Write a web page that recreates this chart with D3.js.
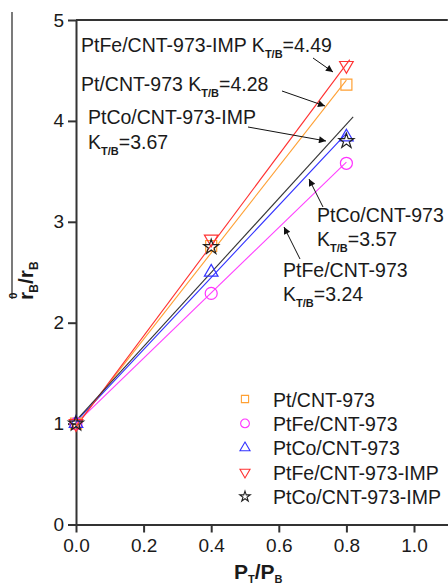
<!DOCTYPE html>
<html>
<head>
<meta charset="utf-8">
<script src="https://cdn.jsdelivr.net/npm/d3@7/dist/d3.min.js"></script>
<style>
  html, body { margin: 0; padding: 0; background: #fff; }
  svg { display: block; }
  text { font-family: "Liberation Sans", Arial, Helvetica, sans-serif; fill: #1a1a1a; }
</style>
</head>
<body>
<svg id="chart" width="448" height="585"></svg>
<script>
// Pressure ratio values (P_T / P_B)
const pressureRatio = [0, 0.4, 0.8];

// Catalyst series
const seriesNames = ["Pt/CNT-973", "PtFe/CNT-973", "PtCo/CNT-973", "PtFe/CNT-973-IMP", "PtCo/CNT-973-IMP"];
const ptValues       = [1.0, 2.76, 4.36];
const ptFeValues     = [1.0, 2.29, 3.58];
const ptCoValues     = [1.0, 2.50, 3.84];
const ptFeImpValues  = [1.0, 2.83, 4.55];
const ptCoImpValues  = [1.0, 2.75, 3.80];

// Linear fits: slope K_T/B, intercept, fitted x range end
const fitSlopes     = [4.28, 3.24, 3.57, 4.49, 3.67];
const fitIntercepts = [0.98, 1.00, 1.02, 0.97, 1.03];
const fitEnds       = [0.80, 0.80, 0.80, 0.81, 0.82];

const xTicks = [0, 0.2, 0.4, 0.6, 0.8, 1.0];
const yTicks = [0, 1, 2, 3, 4, 5];

const colors  = ["#ffa033", "#ff33ff", "#3333ff", "#ff3333", "#222222"];
const lineColors = ["#ffa033", "#ff40ff", "#3030ff", "#ff3030", "#333333"];
const symbols = [d3.symbolSquare, d3.symbolCircle, d3.symbolTriangle, d3.symbolTriangle, d3.symbolStar];
const flips   = [0, 0, 0, 180, 0];
const markerSizes = [121, 113, 80, 80, 70];
const legendSizes = [52, 60, 44, 44, 34];

const allValues = [ptValues, ptFeValues, ptCoValues, ptFeImpValues, ptCoImpValues];

const svg = d3.select("#chart");
const x = d3.scaleLinear().domain([0, 1.1]).range([76, 447.8]);
const y = d3.scaleLinear().domain([0, 5]).range([524.5, 20]);

// Top frame line
svg.append("line").attr("x1", x(0)).attr("x2", x(1.1)).attr("y1", y(5)).attr("y2", y(5))
  .attr("stroke", "#333").attr("stroke-width", 2);

// Axes
const xAxis = d3.axisBottom(x).tickValues(xTicks).tickFormat(d3.format(".1f")).tickSizeInner(8).tickSizeOuter(0).tickPadding(6);
const yAxis = d3.axisLeft(y).tickValues(yTicks).tickFormat(d3.format("d")).tickSizeInner(8).tickSizeOuter(0).tickPadding(4);

const gx = svg.append("g").attr("transform", `translate(0,${y(0)})`).call(xAxis);
const gy = svg.append("g").attr("transform", `translate(${x(0)},0)`).call(yAxis);
[gx, gy].forEach(g => {
  g.select(".domain").attr("stroke", "#333").attr("stroke-width", 2);
  g.selectAll(".tick line").attr("stroke", "#333").attr("stroke-width", 2);
  g.selectAll(".tick text").attr("font-size", 19).attr("fill", "#1a1a1a")
    .attr("font-family", "'Liberation Sans', Arial, sans-serif");
});

// Fit lines
const lineGroup = svg.append("g").attr("fill", "none").attr("stroke-width", 1.1);
fitSlopes.forEach((k, i) => {
  const pts = [0, fitEnds[i]].map(v => [x(v), y(fitIntercepts[i] + k * v)]);
  lineGroup.append("path").attr("d", d3.line()(pts)).attr("stroke", lineColors[i]);
});

// Data markers
allValues.forEach((vals, i) => {
  const sym = d3.symbol().type(symbols[i]).size(markerSizes[i]);
  svg.append("g").selectAll("path").data(vals).join("path")
    .attr("d", sym)
    .attr("transform", (d, j) => `translate(${x(pressureRatio[j])},${y(d)}) rotate(${flips[i]})`)
    .attr("fill", "none").attr("stroke", colors[i]).attr("stroke-width", 1.2);
});

// Annotations with arrows
const defs = svg.append("defs");
defs.append("marker").attr("id", "arrowHead").attr("viewBox", "0 0 10 10")
  .attr("refX", 10).attr("refY", 5).attr("markerWidth", 9).attr("markerHeight", 7)
  .attr("markerUnits", "userSpaceOnUse").attr("orient", "auto")
  .append("path").attr("d", "M0,0 L10,5 L0,10 Z").attr("fill", "#111");

const arrows = [
  [313, 58, 333, 72],
  [282, 91, 325, 106],
  [248, 127, 326, 141],
  [323, 207, 309, 179],
  [300, 259, 284, 227]
];
svg.append("g").selectAll("line").data(arrows).join("line")
  .attr("x1", d => d[0]).attr("y1", d => d[1]).attr("x2", d => d[2]).attr("y2", d => d[3])
  .attr("stroke", "#111").attr("stroke-width", 1).attr("marker-end", "url(#arrowHead)");

const labelSize = 19.5;
function kLabel(g, px, py, prefix, value) {
  const t = g.append("text").attr("x", px).attr("y", py).attr("font-size", labelSize);
  t.append("tspan").text(prefix + "K");
  t.append("tspan").attr("dy", 6).attr("font-size", 11).attr("font-weight", "bold").text("T/B");
  t.append("tspan").attr("dy", -6).text("=" + value.toFixed(2));
}
const ann = svg.append("g");
kLabel(ann, 81, 52, seriesNames[3] + " ", fitSlopes[3]);
kLabel(ann, 81, 91, seriesNames[0] + " ", fitSlopes[0]);
ann.append("text").attr("x", 88).attr("y", 123.5).attr("font-size", labelSize).text(seriesNames[4]);
kLabel(ann, 88, 148.5, "", fitSlopes[4]);
ann.append("text").attr("x", 317).attr("y", 222).attr("font-size", labelSize).text(seriesNames[2]);
kLabel(ann, 317, 245.5, "", fitSlopes[2]);
ann.append("text").attr("x", 283).attr("y", 277).attr("font-size", labelSize).text(seriesNames[1]);
kLabel(ann, 283, 300.5, "", fitSlopes[1]);

// Legend
const legend = svg.append("g");
seriesNames.forEach((name, i) => {
  const cy = 399 + i * 24.4;
  legend.append("path")
    .attr("d", d3.symbol().type(symbols[i]).size(legendSizes[i]))
    .attr("transform", `translate(245,${cy}) rotate(${flips[i]})`)
    .attr("fill", "none").attr("stroke", colors[i]).attr("stroke-width", 1.1);
  legend.append("text").attr("x", 273).attr("y", cy + 7.5).attr("font-size", labelSize).text(name);
});

// Axis titles
const serif = "'Liberation Serif', 'Times New Roman', serif";
const xt = svg.append("text").attr("x", 234).attr("y", 579).attr("font-family", serif)
  .attr("font-weight", "bold").attr("font-size", 21);
xt.append("tspan").text("P");
xt.append("tspan").attr("dy", 4).attr("font-size", 11).text("T");
xt.append("tspan").attr("dy", -4).text("/P");
xt.append("tspan").attr("dy", 4).attr("font-size", 11).text("B");

const yt = svg.append("text").attr("transform", "translate(33,300) rotate(-90)")
  .attr("font-family", serif).attr("font-weight", "bold").attr("font-size", 21);
yt.append("tspan").text("r");
yt.append("tspan").attr("dy", -16).attr("dx", -7).attr("font-size", 11).text("0");
yt.append("tspan").attr("dy", 21).attr("dx", 0).attr("font-size", 12).text("B");
yt.append("tspan").attr("dy", -5).text("/r");
yt.append("tspan").attr("dy", 5).attr("font-size", 12).text("B");

// Overbar along the y title
svg.append("line").attr("x1", 12).attr("x2", 12).attr("y1", 12).attr("y2", 299)
  .attr("stroke", "#222").attr("stroke-width", 1.2);
</script>
</body>
</html>
